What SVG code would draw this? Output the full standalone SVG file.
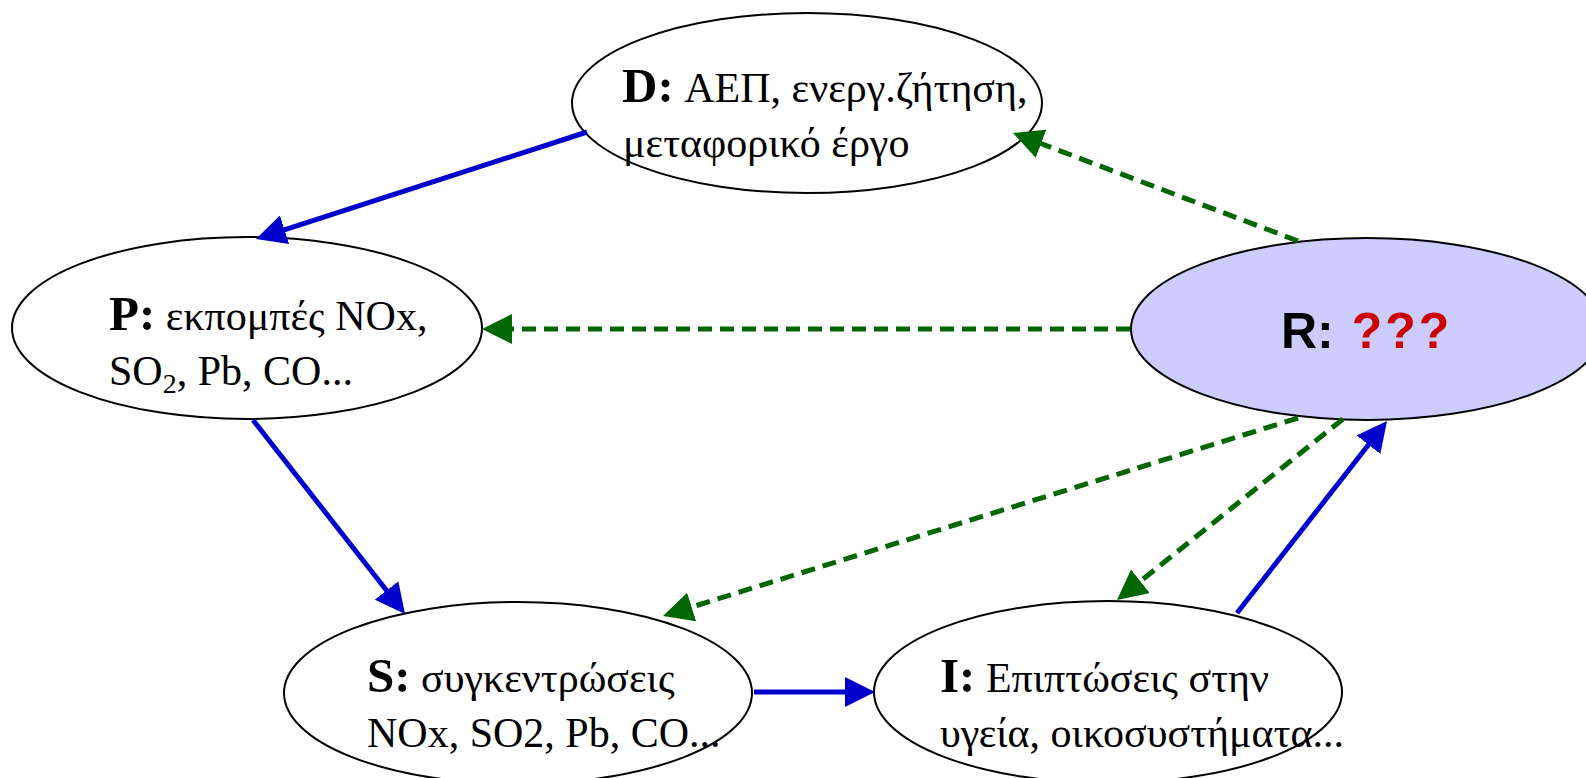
<svg xmlns="http://www.w3.org/2000/svg" width="1586" height="778" viewBox="0 0 1586 778">
<style>
.node{fill:#fff;stroke:#000;stroke-width:2}
.rnode{fill:#CCCCFF;stroke:#000;stroke-width:2}
.t{font-family:"Liberation Serif","Times New Roman",serif;font-size:42px;fill:#000}
.b{font-weight:bold;font-size:49px}
.rt{font-family:"Liberation Sans",Arial,sans-serif;font-weight:bold;font-size:50px}
.blue{stroke:#0000CC;stroke-width:5;fill:none;marker-end:url(#ab)}
.green{stroke:#006600;stroke-width:5;fill:none;stroke-dasharray:14 8;marker-end:url(#ag)}
</style>
<defs>
<marker id="ab" markerUnits="userSpaceOnUse" markerWidth="30" markerHeight="30" refX="10" refY="15" orient="auto"><path d="M0,0 L30,15 L0,30 z" fill="#0000CC"/></marker>
<marker id="ag" markerUnits="userSpaceOnUse" markerWidth="30" markerHeight="30" refX="10" refY="15" orient="auto"><path d="M0,0 L30,15 L0,30 z" fill="#006600"/></marker>
</defs>
<rect width="1586" height="778" fill="#fff"/>
<g id="nodes">
<g id="D"><ellipse class="node" cx="807" cy="103" rx="235" ry="90"/>
<text class="t" x="622" y="102"><tspan class="b">D:</tspan> ΑΕΠ, ενεργ.ζήτηση,</text>
<text class="t" x="623" y="157">μεταφορικό έργο</text></g>
<g id="P"><ellipse class="node" cx="247" cy="328" rx="235" ry="91"/>
<text class="t" x="109" y="330"><tspan class="b">P:</tspan> εκπομπές NOx,</text>
<text class="t" x="109" y="385">SO<tspan font-size="28" dy="8">2</tspan><tspan dy="-8">, Pb, CO...</tspan></text></g>
<g id="R"><ellipse class="rnode" cx="1367" cy="329" rx="236" ry="91"/>
<text class="rt" x="1281" y="348">R: <tspan fill="#CC0000" dx="4" letter-spacing="3">???</tspan></text></g>
<g id="S"><ellipse class="node" cx="518" cy="693" rx="234" ry="91"/>
<text class="t" x="367" y="692"><tspan class="b">S:</tspan> συγκεντρώσεις</text>
<text class="t" x="367" y="747">NOx, SO2, Pb, CO...</text></g>
<g id="I"><ellipse class="node" cx="1108" cy="692" rx="234" ry="91"/>
<text class="t" x="940" y="692"><tspan class="b">I:</tspan> Επιπτώσεις στην</text>
<text class="t" x="940" y="747">υγεία, οικοσυστήματα...</text></g>
</g>
<g id="connectors">
<line class="blue" x1="587" y1="132" x2="275" y2="232.8"/>
<line class="blue" x1="253" y1="420" x2="392.7" y2="598.3"/>
<line class="blue" x1="754" y1="692" x2="855" y2="692"/>
<line class="blue" x1="1237" y1="613" x2="1374.7" y2="436.8"/>
<line class="green" x1="1298" y1="241" x2="1031.7" y2="140.1"/>
<line class="green" x1="1130" y1="329" x2="502" y2="329"/>
<line class="green" x1="1298" y1="418" x2="682.1" y2="610"/>
<line class="green" x1="1343" y1="419" x2="1132.6" y2="587.5"/>
</g>
</svg>
